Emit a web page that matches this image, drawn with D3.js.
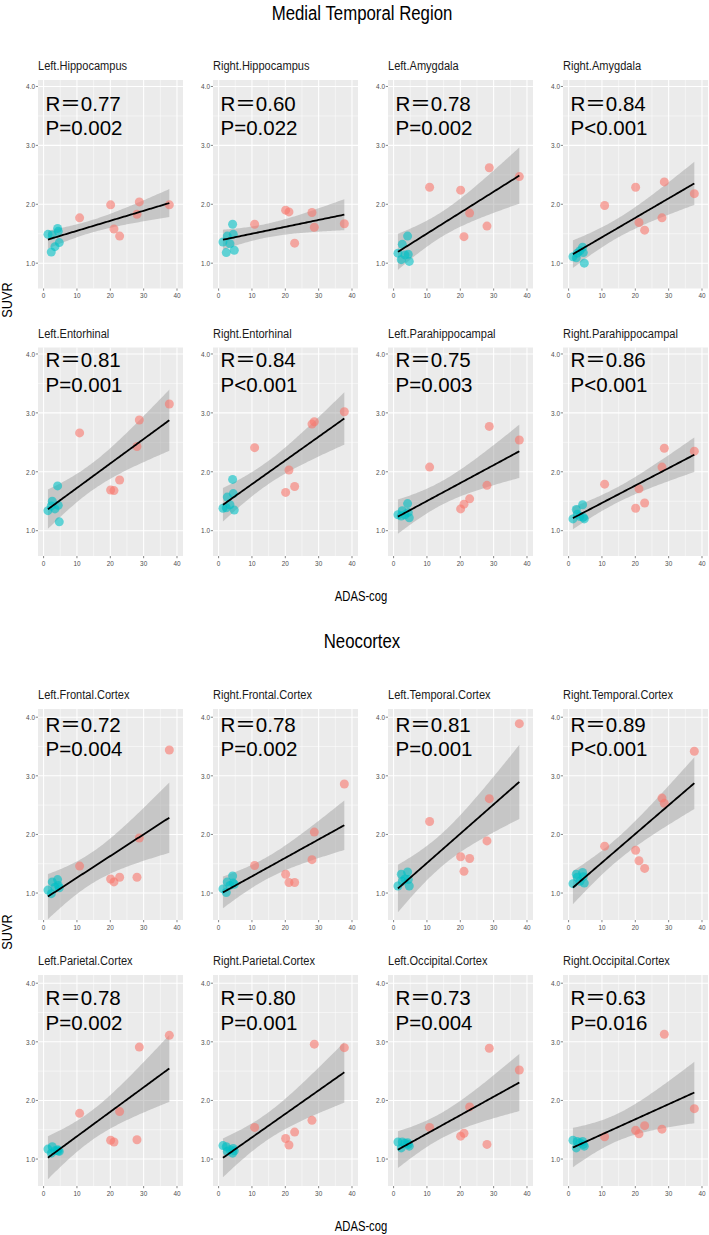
<!DOCTYPE html>
<html><head><meta charset="utf-8">
<script src="https://cdn.jsdelivr.net/npm/d3@7"></script>
<style>body{margin:0;background:#fff} svg{display:block}</style>
</head><body><div id="chart"></div>
<script>
// ---------------- DATA ----------------
const groupTitles = ["Medial Temporal Region", "Neocortex"];
const regionNames = [
  "Left.Hippocampus","Right.Hippocampus","Left.Amygdala","Right.Amygdala",
  "Left.Entorhinal","Right.Entorhinal","Left.Parahippocampal","Right.Parahippocampal",
  "Left.Frontal.Cortex","Right.Frontal.Cortex","Left.Temporal.Cortex","Right.Temporal.Cortex",
  "Left.Parietal.Cortex","Right.Parietal.Cortex","Left.Occipital.Cortex","Right.Occipital.Cortex"
];
const rLabels = ["R\uFF1D0.77","R\uFF1D0.60","R\uFF1D0.78","R\uFF1D0.84",
                 "R\uFF1D0.81","R\uFF1D0.84","R\uFF1D0.75","R\uFF1D0.86",
                 "R\uFF1D0.72","R\uFF1D0.78","R\uFF1D0.81","R\uFF1D0.89",
                 "R\uFF1D0.78","R\uFF1D0.80","R\uFF1D0.73","R\uFF1D0.63"];
const pLabels = ["P=0.002","P=0.022","P=0.002","P<0.001",
                 "P=0.001","P<0.001","P=0.003","P<0.001",
                 "P=0.004","P=0.002","P=0.001","P<0.001",
                 "P=0.002","P=0.001","P=0.004","P=0.016"];
// ADAS-cog scores (same subjects in every panel)
const controlADAS = [1.3, 2.3, 2.6, 3.4, 4.2, 4.4, 4.7];
const patientADAS = [10.8, 20.1, 21.1, 22.8, 28.0, 28.7, 37.7];
// SUVR per region (row order = regionNames)
const controlSUVR = [
  [1.49,1.19,1.48,1.28,1.59,1.54,1.35],
  [1.36,1.18,1.46,1.33,1.66,1.49,1.22],
  [1.17,1.06,1.32,1.14,1.46,1.15,1.03],
  [1.11,1.09,1.17,1.21,1.27,1.18,1.00],
  [1.34,1.42,1.50,1.37,1.76,1.43,1.15],
  [1.38,1.39,1.57,1.44,1.87,1.63,1.35],
  [1.27,1.25,1.34,1.27,1.46,1.31,1.22],
  [1.20,1.36,1.28,1.24,1.44,1.23,1.20],
  [1.05,0.99,1.19,1.10,1.23,1.13,1.09],
  [1.07,1.01,1.19,1.13,1.29,1.17,1.15],
  [1.12,1.32,1.20,1.24,1.36,1.23,1.12],
  [1.16,1.32,1.27,1.20,1.35,1.28,1.17],
  [1.17,1.10,1.21,1.14,1.16,1.14,1.13],
  [1.23,1.21,1.13,1.16,1.10,1.18,1.14],
  [1.29,1.19,1.29,1.27,1.28,1.25,1.22],
  [1.32,1.19,1.30,1.28,1.30,1.25,1.22]
];
const patientSUVR = [
  [1.77,1.99,1.58,1.46,1.83,2.04,1.99],
  [1.66,1.90,1.87,1.34,1.86,1.61,1.67],
  [2.29,2.24,1.45,1.85,1.63,2.62,2.47],
  [1.98,2.29,1.69,1.56,1.77,2.38,2.18],
  [2.66,1.69,1.68,1.86,2.43,2.88,3.15],
  [2.41,1.65,2.03,1.75,2.81,2.85,3.02],
  [2.08,1.37,1.45,1.54,1.77,2.77,2.54],
  [1.79,1.38,1.71,1.47,2.08,2.40,2.35],
  [1.46,1.24,1.19,1.27,1.27,1.94,3.44],
  [1.47,1.32,1.18,1.18,1.57,2.04,2.86],
  [2.22,1.62,1.37,1.59,1.89,2.61,3.89],
  [1.80,1.73,1.55,1.42,2.62,2.53,3.42],
  [1.78,1.32,1.29,1.81,1.33,2.91,3.11],
  [1.54,1.35,1.24,1.46,1.66,2.96,2.90],
  [1.54,1.39,1.44,1.89,1.25,2.89,2.52],
  [1.38,1.49,1.43,1.57,1.51,3.13,1.86]
];
const xTicks = [0, 10, 20, 30, 40];
const xMinor = [5, 15, 25, 35];
const yTicks = [1, 2, 3, 4];
const yMinor = [1.5, 2.5, 3.5];
const xAxisTitle = "ADAS-cog";
const yAxisTitle = "SUVR";

// ---------------- LAYOUT ----------------
const W = 709, H = 1235;
const panelLefts = [38, 213, 388, 563];
const panelW = 145;
const groups = [
  {rows:[80, 347.5], h:208.5, yDomain:[0.57, 4.11], titleY:20, xTitleY:601, yTitleY:300, rTextY:[110.7, 367.3]},
  {rows:[709, 975],  h:211,   yDomain:[0.54, 4.14], titleY:648, xTitleY:1231, yTitleY:932, rTextY:[731.7, 1005]}
];
const COL_PAT = "#F8766D", COL_CON = "#00BFC4";
const condensed = 0.8;
const tcrit = 2.178813; // t(0.975, 12)

const svg = d3.select("#chart").append("svg").attr("width", W).attr("height", H)
  .style("font-family", "'Liberation Sans', Arial, sans-serif");
svg.append("rect").attr("width", W).attr("height", H).attr("fill", "#fff");
const defs = svg.append("defs");

function ctext(g, str, x, y, size, opts = {}) {
  return g.append("text")
    .attr("transform", `translate(${x},${y}) scale(${opts.sx ?? condensed},1)` + (opts.rot ? ` rotate(${opts.rot})` : ""))
    .attr("font-size", size)
    .attr("fill", opts.fill || "#000")
    .attr("text-anchor", opts.anchor || "start")
    .text(str);
}

function fit(xs, ys) {
  const n = xs.length, mx = d3.mean(xs), my = d3.mean(ys);
  let sxx = 0, sxy = 0;
  for (let i = 0; i < n; i++) { sxx += (xs[i]-mx)**2; sxy += (xs[i]-mx)*(ys[i]-my); }
  const b = sxy / sxx, a = my - b*mx;
  let sse = 0;
  for (let i = 0; i < n; i++) sse += (ys[i] - (a + b*xs[i]))**2;
  const s = Math.sqrt(sse / (n - 2));
  return {a, b, s, mx, sxx, n};
}

const x = d3.scaleLinear().domain([-1.68, 41.8]).range([0, panelW]);

groups.forEach((grp, gi) => {
  const y = d3.scaleLinear().domain(grp.yDomain).range([grp.h, 0]);
  // group title
  ctext(svg, groupTitles[gi], 362, grp.titleY, 21, {anchor:"middle"});
  // x axis title
  ctext(svg, xAxisTitle, 361, grp.xTitleY, 15, {anchor:"middle", sx:0.75});
  // y axis title
  svg.append("text")
    .attr("transform", `translate(12,${grp.yTitleY}) rotate(-90) scale(0.88,1)`)
    .attr("font-size", 14.5).attr("text-anchor", "middle").attr("fill", "#000")
    .text(yAxisTitle);

  grp.rows.forEach((top, ri) => {
    panelLefts.forEach((left, ci) => {
      const k = gi*8 + ri*4 + ci;
      const g = svg.append("g").attr("transform", `translate(${left},${top})`);
      const cid = "clip" + k;
      defs.append("clipPath").attr("id", cid).append("rect").attr("width", panelW).attr("height", grp.h);
      // strip label
      ctext(g, regionNames[k], 0, -10, 13.5, {fill:"#1A1A1A", sx:0.82});
      // background
      g.append("rect").attr("width", panelW).attr("height", grp.h).attr("fill", "#EBEBEB");
      // minor grid
      g.selectAll(".xm").data(xMinor).enter().append("line")
        .attr("x1", d=>x(d)).attr("x2", d=>x(d)).attr("y1",0).attr("y2",grp.h)
        .attr("stroke","#fff").attr("stroke-width",0.5);
      g.selectAll(".ym").data(yMinor).enter().append("line")
        .attr("y1", d=>y(d)).attr("y2", d=>y(d)).attr("x1",0).attr("x2",panelW)
        .attr("stroke","#fff").attr("stroke-width",0.5);
      // major grid
      g.selectAll(".xM").data(xTicks).enter().append("line")
        .attr("x1", d=>x(d)).attr("x2", d=>x(d)).attr("y1",0).attr("y2",grp.h)
        .attr("stroke","#fff").attr("stroke-width",1.05);
      g.selectAll(".yM").data(yTicks).enter().append("line")
        .attr("y1", d=>y(d)).attr("y2", d=>y(d)).attr("x1",0).attr("x2",panelW)
        .attr("stroke","#fff").attr("stroke-width",1.05);
      // axis ticks & labels
      xTicks.forEach(t => {
        g.append("line").attr("x1",x(t)).attr("x2",x(t)).attr("y1",grp.h).attr("y2",grp.h+2.2)
          .attr("stroke","#333").attr("stroke-width",0.6);
        ctext(g, String(t), x(t), grp.h + 9.5, 8, {anchor:"middle", fill:"#4D4D4D"});
      });
      yTicks.forEach(t => {
        g.append("line").attr("x1",-2.2).attr("x2",0).attr("y1",y(t)).attr("y2",y(t))
          .attr("stroke","#333").attr("stroke-width",0.6);
        ctext(g, d3.format(".1f")(t), -3, y(t) + 2.8, 8, {anchor:"end", fill:"#4D4D4D"});
      });
      // data
      const xs = controlADAS.concat(patientADAS);
      const ys = controlSUVR[k].concat(patientSUVR[k]);
      const f = fit(xs, ys);
      const xmin = d3.min(xs), xmax = d3.max(xs);
      const grid = d3.range(0, 81).map(i => xmin + (xmax - xmin) * i / 80);
      const band = grid.map(xv => {
        const yh = f.a + f.b*xv;
        const se = f.s * Math.sqrt(1/f.n + (xv - f.mx)**2 / f.sxx);
        return {x: xv, y: yh, lo: yh - tcrit*se, hi: yh + tcrit*se};
      });
      const pg = g.append("g").attr("clip-path", `url(#${cid})`);
      pg.append("path").datum(band)
        .attr("d", d3.area().x(d=>x(d.x)).y0(d=>y(d.lo)).y1(d=>y(d.hi)))
        .attr("fill", "#999999").attr("fill-opacity", 0.45);
      pg.selectAll(".pc").data(controlADAS.map((d,i)=>[d, controlSUVR[k][i]])).enter()
        .append("circle").attr("cx", d=>x(d[0])).attr("cy", d=>y(d[1])).attr("r", 4.5)
        .attr("fill", COL_CON).attr("fill-opacity", 0.6);
      pg.selectAll(".pp").data(patientADAS.map((d,i)=>[d, patientSUVR[k][i]])).enter()
        .append("circle").attr("cx", d=>x(d[0])).attr("cy", d=>y(d[1])).attr("r", 4.5)
        .attr("fill", COL_PAT).attr("fill-opacity", 0.6);
      pg.append("path").datum(band)
        .attr("d", d3.line().x(d=>x(d.x)).y(d=>y(d.y)))
        .attr("fill", "none").attr("stroke", "#000").attr("stroke-width", 1.8);
      // R / P annotations
      const ry = grp.rTextY[ri] - top;
      g.append("text").attr("x", 7.5).attr("y", ry).attr("font-size", 20.5)
        .attr("font-family", "'Liberation Sans', Arial, 'Noto Sans CJK SC', sans-serif")
        .attr("fill", "#000").text(rLabels[k]);
      g.append("text").attr("x", 7.5).attr("y", ry + 24.5).attr("font-size", 20.5)
        .attr("fill", "#000").text(pLabels[k]);
    });
  });
});
</script>
</body></html>
